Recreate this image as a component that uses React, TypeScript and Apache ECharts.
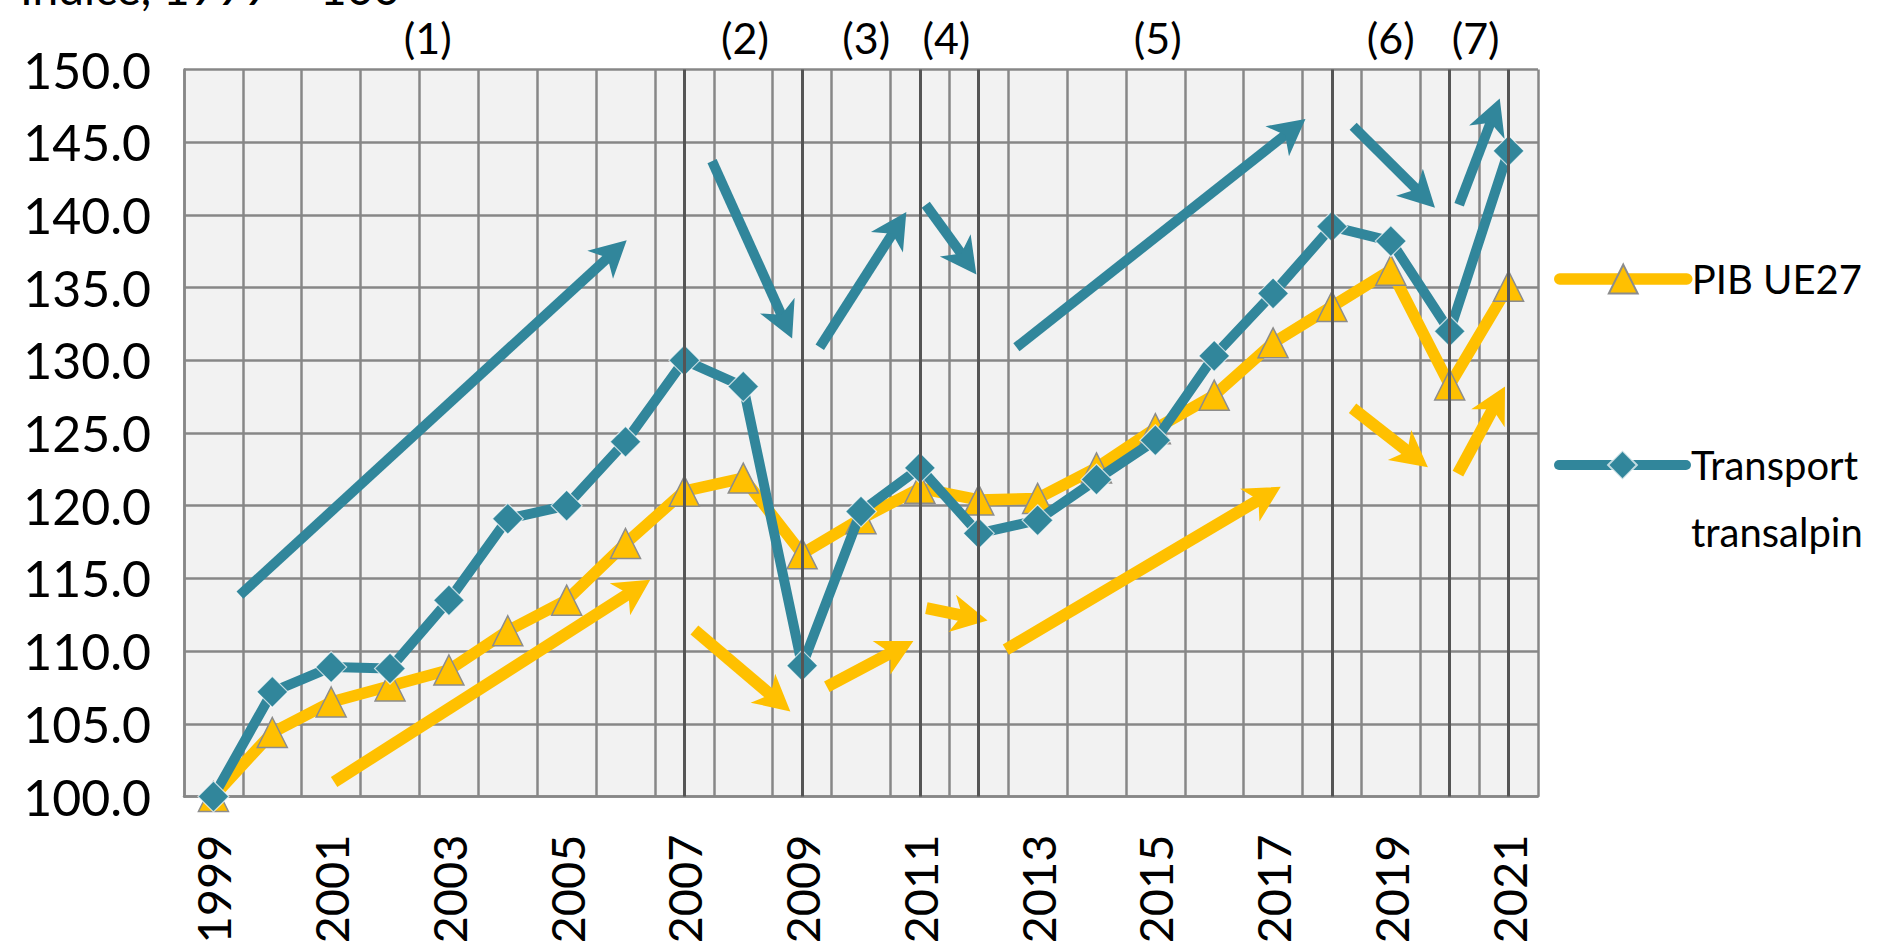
import React, { useEffect, useRef } from 'react';
import * as echarts from 'echarts';

// ---------- data ----------
const years = [
  '1999', '2000', '2001', '2002', '2003', '2004', '2005', '2006', '2007', '2008', '2009', '2010',
  '2011', '2012', '2013', '2014', '2015', '2016', '2017', '2018', '2019', '2020', '2021',
];
const pibUE27 = [
  100.0, 104.4, 106.5, 107.6, 108.7, 111.4, 113.5, 117.4, 121.0, 121.9, 116.7, 119.1,
  121.2, 120.4, 120.5, 122.6, 125.3, 127.6, 131.2, 133.7, 136.2, 128.3, 135.1,
];
const transportTransalpin = [
  100.0, 107.2, 108.9, 108.8, 113.5, 119.1, 120.0, 124.4, 130.0, 128.2, 109.0, 119.6,
  122.6, 118.1, 119.0, 121.8, 124.5, 130.3, 134.6, 139.2, 138.2, 132.0, 144.4,
];
const seriesNames = ['PIB UE27', 'Transport transalpin'];
const breakYears = ['2007', '2009', '2011', '2012', '2018', '2020', '2021'];
const periodLabels = ['(1)', '(2)', '(3)', '(4)', '(5)', '(6)', '(7)'];
const periodLabelYears = [2002.64, 2008.03, 2010.09, 2011.45, 2015.04, 2019.0, 2020.44];
// arrows: [fromYear, fromValue, toYear, toValue]
const tealArrows = [
  [1999.45, 113.85, 2006.02, 138.25],
  [2007.47, 143.7, 2008.83, 131.5],
  [2009.3, 130.9, 2010.77, 140.2],
  [2011.1, 140.7, 2011.96, 135.9],
  [2012.64, 130.9, 2017.55, 146.6],
  [2018.36, 146.1, 2019.75, 140.5],
  [2020.16, 140.7, 2020.85, 148.0],
];
const goldArrows = [
  [2001.05, 101.0, 2006.42, 114.9],
  [2007.17, 111.45, 2008.8, 105.85],
  [2009.42, 107.55, 2010.89, 110.7],
  [2011.11, 112.95, 2012.15, 112.1],
  [2012.46, 110.1, 2017.13, 121.3],
  [2018.35, 126.7, 2019.63, 122.65],
  [2020.14, 122.2, 2020.94, 128.2],
];
const unitNote = 'Indice, 1999 = 100';

// ---------- styles ----------
const TEAL = '#31869B';
const GOLD = '#FFC000';
const GRIDC = '#878787';
const FONT = 'Lato';
const TEAL_W = 10;
const GOLD_W = 11.5;

function arrowRenderer(color: string, width: number) {
  return (params: any, api: any) => {
    const p1 = api.coord([api.value(0), api.value(1)]);
    const p2 = api.coord([api.value(2), api.value(3)]);
    const dx = p2[0] - p1[0];
    const dy = p2[1] - p1[1];
    const len = Math.hypot(dx, dy) || 1;
    const ux = dx / len;
    const uy = dy / len;
    const px = -uy;
    const py = ux;
    const hl = 36;
    const hw = 19;
    const bx = p2[0] - ux * hl;
    const by = p2[1] - uy * hl;
    const nx = p2[0] - ux * hl * 0.72;
    const ny = p2[1] - uy * hl * 0.72;
    const lx = p2[0] - ux * hl * 0.6;
    const ly = p2[1] - uy * hl * 0.6;
    return {
      type: 'group',
      children: [
        {
          type: 'line',
          shape: { x1: p1[0], y1: p1[1], x2: lx, y2: ly },
          style: { stroke: color, lineWidth: width, lineCap: 'butt' },
        },
        {
          type: 'polygon',
          shape: {
            points: [
              [p2[0], p2[1]],
              [bx + px * hw, by + py * hw],
              [nx, ny],
              [bx - px * hw, by - py * hw],
            ],
          },
          style: { fill: color },
        },
      ],
    };
  };
}

export default function App() {
  const ref = useRef<HTMLDivElement>(null);

  useEffect(() => {
    if (!ref.current) return;
    const chart = echarts.init(ref.current, null, { renderer: 'svg' });
    const legendCommon = {
      left: 1554,
      orient: 'vertical',
      padding: 0,
      itemGap: 0,
      itemWidth: 127,
      itemHeight: 36,
      selectedMode: false,
    };
    const option: any = {
      animation: false,
      backgroundColor: '#ffffff',
      textStyle: { fontFamily: FONT },
      grid: {
        left: 184,
        top: 69.5,
        width: 1354,
        height: 727,
        show: true,
        backgroundColor: '#F2F2F2',
        borderWidth: 0,
        containLabel: false,
        outerBoundsMode: 'none',
      },
      legend: [
        {
          ...legendCommon,
          data: [seriesNames[0]],
          top: 259,
          lineStyle: { width: GOLD_W, cap: 'round' },
          textStyle: { fontSize: 40, fontFamily: FONT, color: '#000' },
        },
        {
          ...legendCommon,
          data: [seriesNames[1]],
          top: 364.5,
          lineStyle: { width: TEAL_W, cap: 'round' },
          formatter: (name: string) => '\n' + name.replace(' ', '\n'),
          textStyle: { fontSize: 40, fontFamily: FONT, color: '#000', lineHeight: 67 },
        },
      ],
      xAxis: [
        {
          type: 'category',
          data: years,
          boundaryGap: true,
          axisTick: { show: false },
          axisLine: { show: true, lineStyle: { color: GRIDC, width: 2.5 } },
          splitLine: { show: true, interval: 0, lineStyle: { color: GRIDC, width: 2.5 } },
          axisLabel: {
            interval: 1,
            rotate: 90,
            margin: 38,
            fontSize: 47,
            fontFamily: FONT,
            color: '#000',
          },
        },
        {
          type: 'value',
          min: 1998.5,
          max: 2021.5,
          show: false,
        },
      ],
      yAxis: {
        type: 'value',
        min: 100,
        max: 150,
        interval: 5,
        axisTick: { show: false },
        axisLine: { show: true, lineStyle: { color: GRIDC, width: 2.5 } },
        splitLine: { show: true, lineStyle: { color: GRIDC, width: 2.5 } },
        axisLabel: {
          margin: 33,
          fontSize: 50,
          fontFamily: FONT,
          color: '#000',
          formatter: (v: number) => v.toFixed(1),
        },
      },
      graphic: [
        {
          type: 'text',
          x: 20,
          y: -13,
          silent: true,
          style: {
            text: unitNote,
            fontSize: 46,
            fontFamily: FONT,
            fill: '#000',
            verticalAlign: 'middle',
          },
        },
      ],
      series: [
        {
          type: 'custom',
          xAxisIndex: 1,
          yAxisIndex: 0,
          data: goldArrows,
          renderItem: arrowRenderer(GOLD, 12),
          silent: true,
          z: 2,
        },
        {
          type: 'custom',
          xAxisIndex: 1,
          yAxisIndex: 0,
          data: tealArrows,
          renderItem: arrowRenderer(TEAL, 10),
          silent: true,
          z: 2,
        },
        {
          name: seriesNames[0],
          type: 'line',
          xAxisIndex: 0,
          yAxisIndex: 0,
          data: pibUE27,
          symbol: 'triangle',
          symbolSize: 30,
          clip: false,
          z: 3,
          lineStyle: { color: GOLD, width: GOLD_W },
          itemStyle: { color: GOLD, borderColor: '#8C8C8C', borderWidth: 1.5 },
        },
        {
          name: seriesNames[1],
          type: 'line',
          xAxisIndex: 0,
          yAxisIndex: 0,
          data: transportTransalpin,
          symbol: 'diamond',
          symbolSize: 31,
          clip: false,
          z: 4,
          lineStyle: { color: TEAL, width: TEAL_W },
          itemStyle: { color: TEAL, borderColor: 'rgba(255,255,255,0.7)', borderWidth: 1.2 },
          markLine: {
            silent: true,
            symbol: ['none', 'none'],
            label: { show: false },
            z: 6,
            lineStyle: { color: '#555555', width: 3, type: 'solid' },
            emphasis: { disabled: true },
            data: breakYears.map((y) => ({ xAxis: y })),
          },
        },
        {
          type: 'custom',
          xAxisIndex: 1,
          yAxisIndex: 0,
          data: periodLabelYears.map((y) => [y, 150]),
          silent: true,
          z: 7,
          renderItem: (params: any, api: any) => {
            const p = api.coord([api.value(0), api.value(1)]);
            return {
              type: 'text',
              x: p[0],
              y: p[1] - 32.5,
              style: {
                text: periodLabels[params.dataIndex],
                fontSize: 43,
                fontFamily: FONT,
                fill: '#000',
                align: 'center',
                verticalAlign: 'middle',
              },
            };
          },
        },
      ],
    };
    chart.setOption(option);
    return () => {
      chart.dispose();
    };
  }, []);

  return (
    <div
      ref={ref}
      style={{ position: 'absolute', left: 0, top: 0, width: 1896, height: 941, background: '#fff' }}
    />
  );
}
